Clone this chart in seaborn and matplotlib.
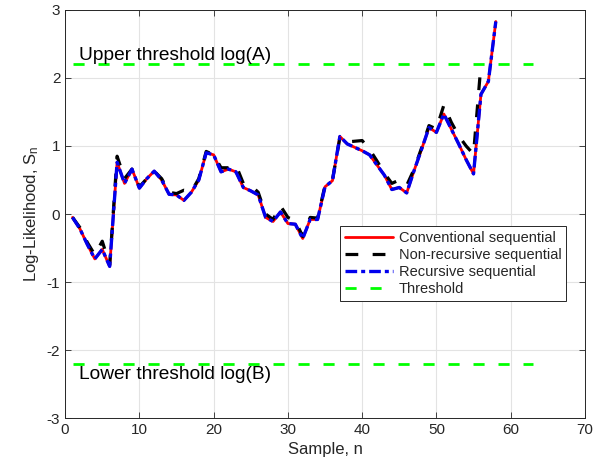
import numpy as np
import pandas as pd
import seaborn as sns
import matplotlib.pyplot as plt

# Samples and log-likelihood values
samples = list(range(1, 59))
conventional = [-0.05, -0.22, -0.45, -0.66, -0.52, -0.77, 0.76, 0.45, 0.66, 0.38,
                0.52, 0.63, 0.50, 0.29, 0.28, 0.20, 0.32, 0.50, 0.90, 0.87,
                0.62, 0.66, 0.62, 0.39, 0.34, 0.28, -0.05, -0.11, 0.03, -0.14,
                -0.15, -0.36, -0.08, -0.08, 0.40, 0.49, 1.14, 1.03, 0.98, 0.93,
                0.87, 0.72, 0.57, 0.36, 0.39, 0.31, 0.64, 0.95, 1.27, 1.20,
                1.47, 1.25, 1.03, 0.80, 0.59, 1.76, 1.95, 2.83]
recursive = list(conventional)
samples_nr = list(range(1, 57))
non_recursive = [-0.05, -0.20, -0.42, -0.60, -0.40, -0.75, 0.85, 0.52, 0.66, 0.40,
                 0.52, 0.63, 0.52, 0.32, 0.30, 0.35, 0.33, 0.52, 0.92, 0.87,
                 0.68, 0.68, 0.72, 0.45, 0.42, 0.32, 0.00, -0.08, 0.12, -0.05,
                 -0.10, -0.33, -0.05, -0.06, 0.42, 0.50, 1.12, 1.06, 1.07, 1.08,
                 0.95, 0.78, 0.60, 0.45, 0.50, 0.42, 0.66, 0.97, 1.30, 1.25,
                 1.60, 1.35, 1.15, 1.00, 0.88, 2.20]
thr_x = [1, 63]
upper_thr = 2.2
lower_thr = -2.2

sns.set_theme(style="ticks")
plt.rcParams['font.family'] = ['Liberation Sans', 'DejaVu Sans']
plt.rcParams['mathtext.fontset'] = 'custom'
plt.rcParams['mathtext.rm'] = 'Liberation Sans'
plt.rcParams['mathtext.it'] = 'Liberation Sans'
plt.rcParams['axes.unicode_minus'] = False

fig = plt.figure(figsize=(6.03, 4.74), dpi=100)
ax = fig.add_axes([0.108, 0.118, 0.862, 0.861])

dark = '#262626'

sns.lineplot(x=samples, y=conventional, ax=ax, color='red', lw=2.0,
             label='Conventional sequential')
sns.lineplot(x=samples_nr, y=non_recursive, ax=ax, color='black', lw=2.3,
             linestyle=(0, (4, 4.5)), label='Non-recursive sequential')
sns.lineplot(x=samples, y=recursive, ax=ax, color='#0000ee', lw=2.4,
             linestyle=(0, (3.5, 1.2, 1.2, 1.2)), label='Recursive sequential')
sns.lineplot(x=thr_x, y=[upper_thr, upper_thr], ax=ax, color='#00ff00', lw=2.0,
             linestyle=(0, (4, 5)), label='Threshold')
sns.lineplot(x=thr_x, y=[lower_thr, lower_thr], ax=ax, color='#00ff00', lw=2.0,
             linestyle=(0, (4, 5)), label='_nolegend_')

ax.text(1.9, 2.26, 'Upper threshold log(A)', fontsize=13.8, color='black', va='baseline')
ax.text(1.9, -2.24, 'Lower threshold log(B)', fontsize=13.8, color='black', va='top')

ax.set_xlim(0, 70)
ax.set_ylim(-3, 3)
ax.set_xticks(range(0, 71, 10))
ax.set_yticks(range(-3, 4))
ax.grid(True, color='#e3e3e3', lw=0.8)
ax.set_axisbelow(True)
ax.tick_params(direction='in', top=True, right=True, labelsize=11,
               colors=dark, length=4, width=0.6)
for sp in ax.spines.values():
    sp.set_color(dark)
    sp.set_linewidth(0.7)

ax.set_xlabel('Sample, n', fontsize=12, color=dark)
ax.set_ylabel('Log-Likelihood, S$_\\mathrm{n}$', fontsize=12, color=dark)

leg = ax.legend(loc='upper right', bbox_to_anchor=(0.963, 0.47), fontsize=10.5,
                frameon=True, fancybox=False, framealpha=1, edgecolor=dark,
                handlelength=3.3, borderpad=0.3, labelspacing=0.22,
                handletextpad=0.4, borderaxespad=0)
leg.get_frame().set_linewidth(0.7)

fig.savefig('out.png', dpi=100)
